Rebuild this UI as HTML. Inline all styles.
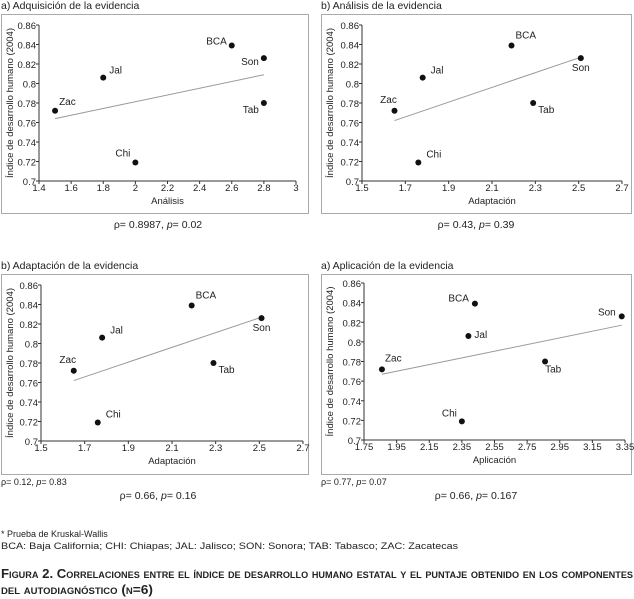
<!DOCTYPE html>
<html><head><meta charset="utf-8"><style>
body{margin:0;background:#fff;width:634px;height:599px;overflow:hidden;font-family:"Liberation Sans",sans-serif;color:#222}
svg{position:absolute;left:0;top:0}
</style></head><body>
<svg id="s" width="634" height="599" xmlns="http://www.w3.org/2000/svg" font-family="Liberation Sans, sans-serif" fill="#222"></svg>
<script>
const states=["Zac","Jal","Chi","BCA","Son","Tab"];
const yIDH=[0.772,0.806,0.719,0.839,0.826,0.780];
const x1=[1.5,1.8,2.0,2.6,2.8,2.8];
const x2=[1.65,1.78,1.76,2.19,2.51,2.29];
const x3=[1.65,1.78,1.76,2.19,2.51,2.29];
const x4=[1.86,2.39,2.35,2.43,3.33,2.86];
const fit1=[[1.5,0.764],[2.8,0.809]];
const fit2=[[1.65,0.762],[2.51,0.827]];
const fit3=[[1.65,0.762],[2.51,0.827]];
const fit4=[[1.86,0.767],[3.33,0.817]];
const yTicks=[0.7,0.72,0.74,0.76,0.78,0.8,0.82,0.84,0.86];
const xt1=[1.4,1.6,1.8,2,2.2,2.4,2.6,2.8,3];
const xt2=[1.5,1.7,1.9,2.1,2.3,2.5,2.7];
const xt3=[1.5,1.7,1.9,2.1,2.3,2.5,2.7];
const xt4=[1.75,1.95,2.15,2.35,2.55,2.75,2.95,3.15,3.35];
const NS="http://www.w3.org/2000/svg",S=document.getElementById('s');
function el(t,a,p,txt){const e=document.createElementNS(NS,t);for(const k in a)e.setAttribute(k,a[k]);if(txt!==undefined)e.textContent=txt;(p||S).appendChild(e);return e;}
const off1=[[4,-6,"start"],[6,-4,"start"],[-5,-6,"end"],[-5,-1,"end"],[-5,7,"end"],[-5,10,"end"]];
const off2=[[-6,-8,"middle"],[8,-4,"start"],[8,-5,"start"],[4,-7,"start"],[0,13,"middle"],[5,10,"start"]];
const off4=[[3,-8,"start"],[6,2,"start"],[-5,-5,"end"],[-6,-2,"end"],[-6,-1,"end"],[0,11,"start"]];
const panels=[
 {name:"adquisicion",title:"a) Adquisición de la evidencia",bx:1,by:14,bw:307,bh:199,px0:39,px1:296,py0:181,py1:25,xmin:1.4,xmax:3,xs:x1,fit:fit1,ticks:xt1,xl:"Análisis",off:off1},
 {name:"analisis",title:"b) Análisis de la evidencia",bx:321,by:14,bw:310,bh:199,px0:362,px1:622,py0:181,py1:25,xmin:1.5,xmax:2.7,xs:x2,fit:fit2,ticks:xt2,xl:"Adaptación",off:off2},
 {name:"adaptacion",title:"b) Adaptación de la evidencia",bx:1,by:274,bw:307,bh:200,px0:41,px1:303,py0:441,py1:285,xmin:1.5,xmax:2.7,xs:x3,fit:fit3,ticks:xt3,xl:"Adaptación",off:off2},
 {name:"aplicacion",title:"a) Aplicación de la evidencia",bx:321,by:274,bw:310,bh:200,px0:364,px1:625,py0:440,py1:283,xmin:1.75,xmax:3.35,xs:x4,fit:fit4,ticks:xt4,xl:"Aplicación",off:off4}
];
panels.forEach(P=>{
 const g=el('g',{});
 
 
 const X=v=>P.px0+(v-P.xmin)/(P.xmax-P.xmin)*(P.px1-P.px0);
 const Y=v=>P.py0+(v-0.7)/(0.86-0.7)*(P.py1-P.py0);
 const t=el('text',{x:P.bx,y:P.by-5,'font-size':10.5},g,P.title);
 
 const b=el('rect',{x:P.bx+0.5,y:P.by+0.5,width:P.bw,height:P.bh,fill:'none',stroke:'#aaa'},g);
 
 el('line',{x1:P.px0,y1:P.py0,x2:P.px0,y2:P.py1,stroke:'#333'},g);
 el('line',{x1:P.px0,y1:P.py0,x2:P.px1,y2:P.py0,stroke:'#333'},g);
 yTicks.forEach(v=>{el('line',{x1:P.px0-3,x2:P.px0,y1:Y(v),y2:Y(v),stroke:'#333'},g);
  const tl=el('text',{x:P.px0-3,y:Y(v)+4,'font-size':9.5,'text-anchor':'end'},g,String(v));
  });
 P.ticks.forEach(v=>{el('line',{x1:X(v),x2:X(v),y1:P.py0,y2:P.py0+3,stroke:'#333'},g);
  const tl=el('text',{x:X(v),y:P.py0+10,'font-size':9.5,'text-anchor':'middle'},g,String(v));
  });
 const xa=el('text',{x:(P.px0+P.px1)/2,y:P.py0+23,'font-size':9.5,'text-anchor':'middle'},g,P.xl);
 
 const cy=(P.py0+P.py1)/2;
 const ya=el('text',{x:0,y:0,'font-size':9.5,'text-anchor':'middle',transform:`translate(${P.bx+12},${cy}) rotate(-90)`},g,'Índice de desarrollo humano (2004)');
 
 const fl=el('line',{x1:X(P.fit[0][0]),y1:Y(P.fit[0][1]),x2:X(P.fit[1][0]),y2:Y(P.fit[1][1]),stroke:'#999','stroke-width':1},g);
 
 states.forEach((s,i)=>{
  const c=el('circle',{cx:X(P.xs[i]),cy:Y(yIDH[i]),r:3,fill:'#111'},g);
  
  const o=P.off[i];
  const l=el('text',{x:X(P.xs[i])+o[0],y:Y(yIDH[i])+o[1],'font-size':10,'text-anchor':o[2]},g,s);
  
 });
});
function txt(x,y,s,fs,name,anchor,extra){const e=el('text',Object.assign({x:x,y:y,'font-size':fs,'text-anchor':anchor||'start'},extra||{}),S,s);return e;}
function stat(x,y,r,p,fs,name,anchor){const e=txt(x,y,'',fs,name,anchor);
 el('tspan',{},e,'ρ= '+r+', ');el('tspan',{'font-style':'italic'},e,'p');el('tspan',{},e,'= '+p);return e;}
stat(158,228,'0.8987','0.02',10.5,'stat-adquisicion','middle');
stat(476,228,'0.43','0.39',10.5,'stat-analisis','middle');
stat(1,485,'0.12','0.83',9,'stat-adaptacion-a');
stat(158,499,'0.66','0.16',10.5,'stat-adaptacion-b','middle');
stat(321,485,'0.77','0.07',9,'stat-aplicacion-a');
stat(476,499,'0.66','0.167',10.5,'stat-aplicacion-b','middle');
txt(1,537,'* Prueba de Kruskal-Wallis',9,'footnote-test');
txt(1,549,'BCA: Baja California; CHI: Chiapas; JAL: Jalisco; SON: Sonora; TAB: Tabasco; ZAC: Zacatecas',9,'footnote-abbrev','start',{textLength:457,lengthAdjust:'spacingAndGlyphs'});
txt(1,578,'Figura 2. Correlaciones entre el índice de desarrollo humano estatal y el puntaje obtenido en los componentes',13,'figure-caption-1','start',{'font-weight':'bold','font-variant':'small-caps',textLength:632,lengthAdjust:'spacingAndGlyphs'});
txt(1,594,'del autodiagnóstico (n=6)',13,'figure-caption-2','start',{'font-weight':'bold','font-variant':'small-caps',textLength:152,lengthAdjust:'spacingAndGlyphs'});
</script>
</body></html>
